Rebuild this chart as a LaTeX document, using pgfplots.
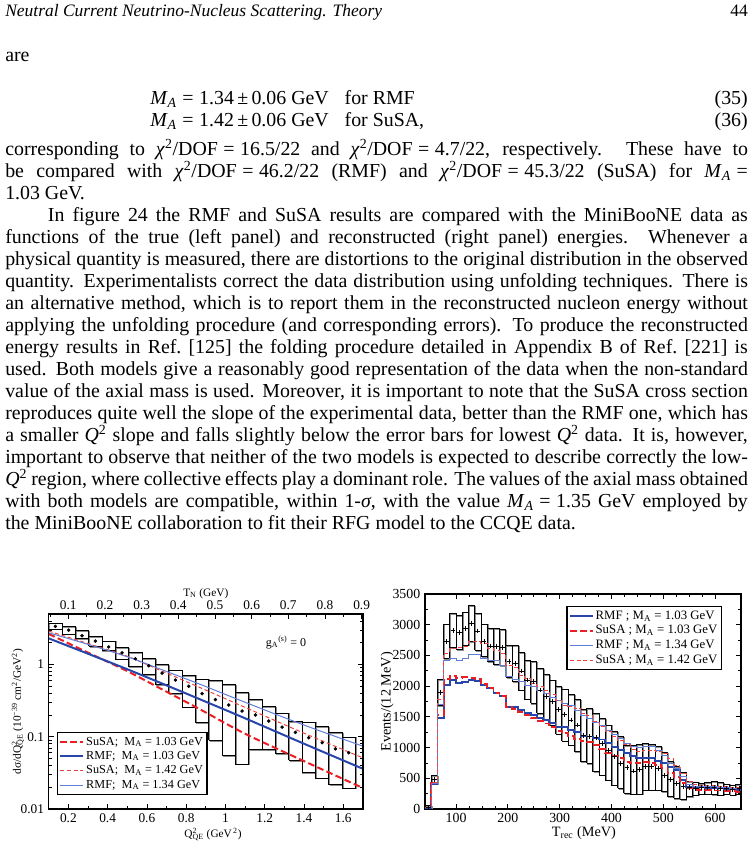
\documentclass[border=0pt]{standalone}
\usepackage{fontspec}
\setmainfont{Liberation Serif}
\usepackage{pgfplots}
\usepackage{pgfplotstable}
\pgfplotsset{compat=1.18}

\definecolor{rblue}{RGB}{40,70,170}
\definecolor{lblue}{RGB}{95,125,215}
\definecolor{rred}{RGB}{235,30,35}
\definecolor{lred}{RGB}{238,65,65}

\newcommand\MA{\textit{M}\textsubscript{\textit{A}}}
\newcommand\chisq{\textit{χ}\textsuperscript{2}}
\newcommand\Qsq{\textit{Q}\textsuperscript{2}}
\newcommand\eq{\hspace{0.28em}=\hspace{0.28em}}
\newcommand\bodyfont{\fontsize{14.9pt}{16.5pt}\selectfont}
\newcommand\headfont{\fontsize{13.1pt}{16pt}\selectfont}

\pgfplotstableread{
x lo hi y
0.1 3.09 3.75 3.37
0.1679 2.64 3.33 2.99
0.2358 2.27 2.93 2.5
0.3037 1.78 2.45 2.11
0.3716 1.55 2.11 1.75
0.4395 1.19 1.72 1.45
0.5074 0.93 1.45 1.2
0.5753 0.72 1.21 0.96
0.6432 0.53 0.99 0.76
0.7111 0.395 0.84 0.61
0.779 0.258 0.71 0.5
0.8469 0.156 0.63 0.395
0.9148 0.089 0.605 0.327
0.9827 0.055 0.53 0.275
1.0506 0.042 0.41 0.227
1.1185 0.0667 0.327 0.2
1.1864 0.0667 0.261 0.165
1.2543 0.058 0.213 0.136
1.3222 0.047 0.161 0.115
1.3901 0.0316 0.16 0.097
1.458 0.0269 0.139 0.0826
1.5259 0.0217 0.114 0.068
1.5938 0.0195 0.099 0.06
}\tabL

\pgfplotstableread{
q s103 r103 s142 r134
0.1 2.65 2.3 2.9 2.75
0.3 1.46 1.41 1.95 1.9
0.5 0.81 0.86 1.3 1.28
0.7 0.42 0.514 0.76 0.8
0.87 0.24 0.33 0.48 0.533
1.1 0.11 0.18 0.255 0.3
1.4 0.046 0.08 0.112 0.145
1.7 0.0195 0.036 0.051 0.074
}\modL

\pgfplotstableread{
x data lo hi r103 s103 r134 s142
40 30 0 60 20 25 20 25
52 480 418 548 401 418 420 430
64 1899 1682 2111 1487 1530 1700 1790
76 2724 2452 3011 2018 2111 2425 2534
88 2903 2632 3185 2100 2165 2452 2615
100 2870 2600 3147 2056 2132 2415 2632
112 2941 2670 3207 2067 2143 2452 2642
124 3022 2724 3310 2100 2138 2507 2724
136 2897 2583 3185 2084 2111 2518 2724
148 2724 2480 3011 2018 2029 2452 2697
160 2653 2398 2941 1964 1964 2415 2615
172 2642 2355 2941 1883 1894 2415 2588
184 2632 2339 2925 1839 1839 2344 2534
196 2398 2143 2664 1666 1655 2154 2344
208 2371 2073 2664 1666 1622 2111 2306
220 2246 1937 2550 1611 1584 2073 2181
232 2100 1791 2415 1557 1530 2018 2127
244 2073 1720 2404 1530 1476 1991 2046
256 1937 1557 2290 1487 1432 1937 1991
268 1829 1449 2192 1449 1394 1883 1937
280 1747 1367 2100 1405 1329 1818 1856
292 1622 1221 1991 1340 1275 1774 1774
304 1541 1107 1953 1329 1232 1720 1693
316 1449 1042 1866 1286 1188 1677 1666
328 1367 933 1785 1259 1134 1611 1639
340 1200 770 1622 1194 1112 1530 1557
352 1177 743 1639 1180 1096 1476 1514
364 1161 608 1557 1150 1042 1405 1422
376 1069 553 1476 1130 971 1367 1340
388 950 472 1367 1080 906 1286 1259
400 852 391 1259 1015 863 1215 1188
412 743 336 1177 960 825 1150 1112
424 670 255 1030 906 770 1069 1042
436 620 244 1030 863 743 1025 971
448 640 244 1055 825 754 1004 933
460 695 309 1065 825 770 1025 960
472 689 309 1050 825 754 1015 960
484 662 309 1015 787 716 950 933
496 550 282 920 743 662 863 906
508 480 200 770 689 591 743 825
520 420 174 689 635 526 662 716
532 370 160 591 472 418 526 580
544 355 200 450 364 336 391 445
556 340 228 440 350 309 374 400
568 345 244 418 350 309 370 390
580 350 244 434 345 305 365 380
592 345 240 445 340 300 360 375
604 340 228 425 335 300 355 370
616 330 244 407 330 295 350 365
628 320 228 391 320 290 340 355
640 330 244 400 310 280 330 345
652 330 244 400 310 280 330 345
}\tabR

\newcommand\drawboxes[4]{%
  \pgfplotsinvokeforeach{0,...,#2}{%
    \pgfplotstablegetelem{##1}{x}\of{#1}\let\xa\pgfplotsretval
    \pgfplotstablegetelem{##1}{lo}\of{#1}\let\ylo\pgfplotsretval
    \pgfplotstablegetelem{##1}{hi}\of{#1}\let\yhi\pgfplotsretval
    \pgfmathsetmacro\xb{\xa+#3}%
    \edef\temp{\noexpand\addplot[#4] coordinates {(\xa,\ylo) (\xa,\yhi) (\xb,\yhi) (\xb,\ylo) (\xa,\ylo)};}%
    \temp
  }%
}

\pgfplotsset{
  boxK/.style={black, line width=0.65pt, forget plot, mark=none},
  boxS/.style={black!45, line width=0.9pt, xshift=0.6pt, yshift=-0.6pt, forget plot, mark=none},
  pR103/.style={rblue, line width=1.5pt, mark=none},
  pS103/.style={rred, line width=1.5pt, dash pattern=on 5pt off 2.5pt, mark=none},
  pR134/.style={lblue, line width=0.75pt, mark=none},
  pS142/.style={lred, line width=0.75pt, dash pattern=on 3pt off 2pt, mark=none},
  chartbase/.style={
    scale only axis, anchor=south west,
    tick align=inside,
    major tick length=4pt, minor tick length=2.2pt,
    axis line style={line width=0.85pt},
    every tick/.style={black, line width=0.6pt},
    every minor tick/.style={black, line width=0.5pt},
  },
}

\begin{document}
\begin{tikzpicture}
\useasboundingbox (0,0) rectangle (565.5pt,635.25pt);
\begin{scope}[x=0.75pt,y=0.75pt]
\node[anchor=base west, inner sep=0, font=\headfont\itshape] at (5,830) {Neutral Current Neutrino-Nucleus Scattering. Theory};
\node[anchor=base east, inner sep=0, font=\headfont] at (748,830) {44};
\node[anchor=base west, inner sep=0, font=\bodyfont] at (5,785) {are};
\node[anchor=base west, inner sep=0, font=\bodyfont] at (150,742) {\MA\eq 1.34\,±\,0.06 GeV\hspace{0.8em}for RMF};
\node[anchor=base east, inner sep=0, font=\bodyfont] at (748,742) {(35)};
\node[anchor=base west, inner sep=0, font=\bodyfont] at (150,720) {\MA\eq 1.42\,±\,0.06 GeV\hspace{0.8em}for SuSA,};
\node[anchor=base east, inner sep=0, font=\bodyfont] at (748,720) {(36)};
\node[anchor=north west, inner sep=0, text width=557pt, align=justify, font=\bodyfont] at (5,708) {\parindent=0pt\rule{0pt}{12pt}corresponding to \chisq/DOF\eq 16.5/22 and \chisq/DOF\eq 4.7/22, respectively.  These have to\linebreak
be compared with \chisq/DOF\eq 46.2/22 (RMF) and \chisq/DOF\eq 45.3/22 (SuSA) for \MA\eq\linebreak
1.03 GeV.\par
\hspace*{32pt}In figure 24 the RMF and SuSA results are compared with the MiniBooNE data as\linebreak
functions of the true (left panel) and reconstructed (right panel) energies.  Whenever a\linebreak
physical quantity is measured, there are distortions to the original distribution in the observed\linebreak
quantity. Experimentalists correct the data distribution using unfolding techniques. There is\linebreak
an alternative method, which is to report them in the reconstructed nucleon energy without\linebreak
applying the unfolding procedure (and corresponding errors). To produce the reconstructed\linebreak
energy results in Ref.\ [125] the folding procedure detailed in Appendix B of Ref.\ [221] is\linebreak
used. Both models give a reasonably good representation of the data when the non-standard\linebreak
value of the axial mass is used. Moreover, it is important to note that the SuSA cross section\linebreak
reproduces quite well the slope of the experimental data, better than the RMF one, which has\linebreak
a smaller \Qsq\ slope and falls slightly below the error bars for lowest \Qsq\ data. It is, however,\linebreak
important to observe that neither of the two models is expected to describe correctly the low-\linebreak
\Qsq\ region, where collective effects play a dominant role. The values of the axial mass obtained\linebreak
with both models are compatible, within 1-\textit{σ}, with the value \MA\eq 1.35 GeV employed by\linebreak
the MiniBooNE collaboration to fit their RFG model to the CCQE data.};
\end{scope}

% ---------- left panel ----------
\begin{axis}[chartbase,
  at={(36.525pt,28.5pt)}, width=235.7pt, height=146.25pt,
  ymode=log, xmin=0.1, xmax=1.7, ymin=0.01, ymax=5,
  xtick={0.2,0.4,0.6,0.8,1,1.2,1.4,1.6},
  xticklabels={0.2,0.4,0.6,0.8,1,1.2,1.4,1.6},
  minor xtick={0.3,0.5,0.7,0.9,1.1,1.3,1.5},
  ytick={0.01,0.1,1}, yticklabels={0.01,0.1,1},
  minor ytick={0.02,0.03,0.04,0.05,0.06,0.07,0.08,0.09,0.2,0.3,0.4,0.5,0.6,0.7,0.8,0.9,2,3,4,5},
  xtick pos=left, ytick pos=both,
  tick label style={font=\fontsize{10pt}{12pt}\selectfont},
  xlabel={Q\rlap{\textsuperscript{2}}\textsubscript{QE} (GeV\textsuperscript{\,2})},
  ylabel={dσ/dQ\rlap{\textsuperscript{2}}\textsubscript{QE} (10\textsuperscript{−39} cm\textsuperscript{2}/GeV\textsuperscript{2})},
  xlabel style={font=\fontsize{8.5pt}{10pt}\selectfont, at={(axis description cs:0.523,-0.13)}, anchor=center},
  ylabel style={font=\fontsize{8.5pt}{10pt}\selectfont, at={(axis description cs:-0.098,0.5)}, anchor=center},
  legend style={at={(0.0255,0.072)}, anchor=south west, draw=black, line width=0.9pt,
    font=\fontsize{9.2pt}{10pt}\selectfont, inner sep=1.5pt, row sep=0pt,
    nodes={inner sep=1.6pt}, cells={anchor=west}},
  legend cell align=left,
]
\drawboxes{\tabL}{22}{0.0679}{boxS}
\drawboxes{\tabL}{22}{0.0679}{boxK}
\addplot[pS103, smooth] table[x=q, y=s103] {\modL};
\addlegendentry{SuSA;\ \ M\textsubscript{A} = 1.03 GeV}
\addplot[pR103, smooth] table[x=q, y=r103] {\modL};
\addlegendentry{RMF;\ \ M\textsubscript{A} = 1.03 GeV}
\addplot[pS142, smooth] table[x=q, y=s142] {\modL};
\addlegendentry{SuSA;\ \ M\textsubscript{A} = 1.42 GeV}
\addplot[pR134, smooth] table[x=q, y=r134] {\modL};
\addlegendentry{RMF;\ \ M\textsubscript{A} = 1.34 GeV}
\addplot[only marks, mark=*, mark size=1.1pt, black, forget plot] table[x expr=\thisrow{x}+0.03395, y=y] {\tabL};
\node[font=\fontsize{9pt}{10pt}\selectfont] at (axis cs:1.308,2.04) {g\textsubscript{A}\textsuperscript{(s)} = 0};
\end{axis}
\begin{axis}[chartbase,
  at={(36.525pt,28.5pt)}, width=235.7pt, height=146.25pt,
  xmin=0.0466, xmax=0.9036, ymin=0, ymax=1,
  xtick={0.1,0.2,0.3,0.4,0.5,0.6,0.7,0.8,0.9},
  xticklabels={0.1,0.2,0.3,0.4,0.5,0.6,0.7,0.8,0.9},
  minor xtick={0.05,0.15,0.25,0.35,0.45,0.55,0.65,0.75,0.85},
  ytick=\empty,
  xtick pos=right, xticklabel pos=right,
  tick label style={font=\fontsize{10pt}{12pt}\selectfont},
  xlabel={T\textsubscript{N} (GeV)},
  xlabel style={font=\fontsize{8.5pt}{10pt}\selectfont, at={(axis description cs:0.5,1.106)}, anchor=center},
]
\end{axis}

% ---------- right panel ----------
\begin{axis}[chartbase,
  at={(318.75pt,28.5pt)}, width=237pt, height=161.25pt,
  xmin=40, xmax=650, ymin=0, ymax=3500,
  xtick={100,200,300,400,500,600}, xticklabels={100,200,300,400,500,600},
  minor x tick num=3,
  ytick={0,500,1000,1500,2000,2500,3000,3500},
  yticklabels={0,500,1000,1500,2000,2500,3000,3500},
  minor y tick num=1,
  xtick pos=both, ytick pos=both,
  tick label style={font=\fontsize{10.4pt}{12pt}\selectfont},
  xlabel={T\textsubscript{rec} (MeV)},
  ylabel={Events/(12 MeV)},
  xlabel style={font=\fontsize{10.7pt}{12pt}\selectfont, at={(axis description cs:0.503,-0.112)}, anchor=center},
  ylabel style={font=\fontsize{10.7pt}{12pt}\selectfont, at={(axis description cs:-0.12,0.498)}, anchor=center},
  legend style={at={(0.94,0.944)}, anchor=north east, draw=black, line width=0.8pt,
    font=\fontsize{9.6pt}{10pt}\selectfont, inner sep=1.5pt, row sep=0pt,
    nodes={inner sep=1.6pt}, cells={anchor=west}},
  legend cell align=left,
]
\drawboxes{\tabR}{50}{12}{boxS}
\drawboxes{\tabR}{50}{12}{boxK}
\addplot[pR103, line width=1.3pt, const plot] table[x=x, y=r103] {\tabR};
\addlegendentry{RMF ; M\textsubscript{A} = 1.03 GeV}
\addplot[pS103, line width=1.3pt, const plot] table[x=x, y=s103] {\tabR};
\addlegendentry{SuSA ; M\textsubscript{A} = 1.03 GeV}
\addplot[pR134, const plot] table[x=x, y=r134] {\tabR};
\addlegendentry{RMF ; M\textsubscript{A} = 1.34 GeV}
\addplot[pS142, const plot] table[x=x, y=s142] {\tabR};
\addlegendentry{SuSA ; M\textsubscript{A} = 1.42 GeV}
\addplot[only marks, mark=+, mark size=1.8pt, black, line width=0.6pt, forget plot, restrict x to domain=0:650] table[x expr=\thisrow{x}+6, y=data] {\tabR};
\end{axis}
\end{tikzpicture}
\end{document}
